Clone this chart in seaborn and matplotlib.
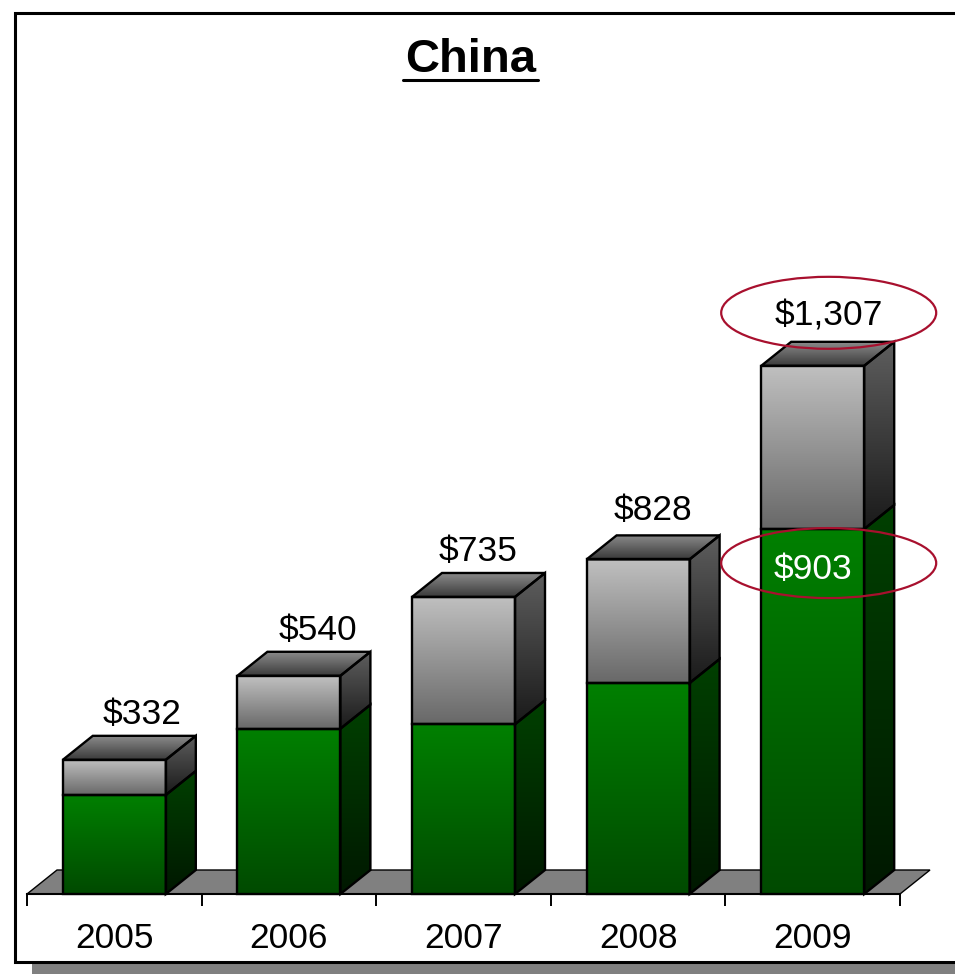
import numpy as np
import pandas as pd
import matplotlib
matplotlib.use("Agg")
import matplotlib.pyplot as plt
import seaborn as sns
from matplotlib.patches import Polygon, Rectangle, Ellipse
from matplotlib.lines import Line2D
from matplotlib.colors import LinearSegmentedColormap
from matplotlib.transforms import IdentityTransform

# ---------------- data ----------------
years = ["2005", "2006", "2007", "2008", "2009"]
green_vals = [245, 409, 420, 522, 903]
totals = [332, 540, 735, 828, 1307]
total_labels = ["$332", "$540", "$735", "$828", "$1,307"]
green_label = "$903"
title = "China"

# per-label horizontal nudges (pixels) and vertical gaps
label_dx = [28, 29, 15, 15, 16]
label_dy = [21, 21, 21, 25, 26]

sns.set_theme(style="white")
plt.rcParams['font.family'] = ['Liberation Sans', 'DejaVu Sans']

W, H = 955, 974
fig = plt.figure(figsize=(W / 100, H / 100), dpi=100)
fig.patch.set_facecolor("white")

# outer frame with drop shadow
fig.patches.append(Rectangle((32, 0), 1200, 11, transform=IdentityTransform(),
                             facecolor="#808080", edgecolor="none", zorder=-3))
fig.patches.append(Rectangle((14.5, 12), 1200, 949.5, transform=IdentityTransform(),
                             facecolor="white", edgecolor="black", linewidth=2.2, zorder=-2))

# axes
ax = fig.add_axes([27 / W, (H - 894) / H, 873 / W, 687 / H])
ax.set_zorder(1)
ax.patch.set_alpha(0)
ymax = 1700

df = pd.DataFrame({"year": years, "total": totals, "green": green_vals})
sns.barplot(data=df, x="year", y="total", color="#909090", width=0.59,
            saturation=1, ax=ax)
n = len(years)
tot_patches = list(ax.patches[:n])
sns.barplot(data=df, x="year", y="green", color="#008000", width=0.59,
            saturation=1, ax=ax)
grn_patches = list(ax.patches[n:2 * n])

ax.set_autoscale_on(False)
ax.set_xlim(-0.5, n - 0.5)
ax.set_ylim(0, ymax)

# pixel depth -> data depth
p0 = ax.transData.transform((0, 0))
p1 = ax.transData.transform((1, 1))
px_per_x = p1[0] - p0[0]
px_per_y = p1[1] - p0[1]
DX_PX, DY_PX = 30, 24
dxd = DX_PX / px_per_x
dyd = DY_PX / px_per_y


def cmap2(top, bottom):
    return LinearSegmentedColormap.from_list("g", [bottom, top])


def grad_poly(verts, top, bottom, z):
    poly = Polygon(verts, closed=True, facecolor="none", edgecolor="none",
                   transform=ax.transData)
    ax.add_patch(poly)
    xs = [v[0] for v in verts]
    ys = [v[1] for v in verts]
    g = np.linspace(0, 1, 256).reshape(-1, 1)
    im = ax.imshow(g, extent=[min(xs), max(xs), min(ys), max(ys)], origin="lower",
                   aspect="auto", cmap=cmap2(top, bottom), zorder=z,
                   interpolation="bilinear")
    im.set_clip_path(poly)
    ax.add_patch(Polygon(verts, closed=True, facecolor="none", edgecolor="black",
                         linewidth=1.7, zorder=z + 0.5, joinstyle="miter",
                         clip_on=False))
    return im


# floor
floor = Polygon([(-0.5, 0), (-0.5 + dxd, dyd), (n - 0.5 + dxd, dyd), (n - 0.5, 0)],
                closed=True, facecolor="#808080", edgecolor="black", linewidth=1.0,
                zorder=1, clip_on=False)
ax.add_patch(floor)

for i in range(n):
    tp = tot_patches[i]
    tp.set_visible(False)
    grn_patches[i].set_visible(False)
    x0 = tp.get_x()
    x1 = x0 + tp.get_width()
    g = grn_patches[i].get_height()
    t = tp.get_height()
    # green front and side
    grad_poly([(x0, 0), (x1, 0), (x1, g), (x0, g)], "#008000", "#004a00", 3)
    grad_poly([(x1, 0), (x1 + dxd, dyd), (x1 + dxd, g + dyd), (x1, g)],
              "#004000", "#001800", 3)
    # gray front and side
    grad_poly([(x0, g), (x1, g), (x1, t), (x0, t)], "#c0c0c0", "#686868", 3)
    grad_poly([(x1, g), (x1 + dxd, g + dyd), (x1 + dxd, t + dyd), (x1, t)],
              "#5e5e5e", "#1a1a1a", 3)
    # top face
    grad_poly([(x0, t), (x1, t), (x1 + dxd, t + dyd), (x0 + dxd, t + dyd)],
              "#8a8a8a", "#3a3a3a", 3)
    # total label
    ax.annotate(total_labels[i], xy=((x0 + x1) / 2, t + dyd),
                xytext=(label_dx[i], label_dy[i]), textcoords="offset pixels",
                ha="center", va="center", fontsize=25.5, color="black", zorder=6)

# highlighted 2009 values
last = n - 1
xl0 = tot_patches[last].get_x()
xl1 = xl0 + tot_patches[last].get_width()
xc = (xl0 + xl1) / 2
gl = grn_patches[last].get_height()
tl = tot_patches[last].get_height()
ax.annotate(green_label, xy=(xc, gl), xytext=(0, -40), textcoords="offset pixels",
            ha="center", va="center", fontsize=25.5, color="white", zorder=6)

c1 = ax.transData.transform((xc, tl + dyd)) + np.array([label_dx[last], 29])
c2 = ax.transData.transform((xc, gl)) + np.array([16, -34])
for c, h in [(c1, 72), (c2, 70)]:
    fig.patches.append(Ellipse((c[0], c[1]), 215, h, transform=IdentityTransform(),
                               facecolor="none", edgecolor="#a8102e", linewidth=1.6,
                               zorder=10))

# axis styling
for s in ["left", "right", "top"]:
    ax.spines[s].set_visible(False)
ax.spines["bottom"].set_color("black")
ax.spines["bottom"].set_linewidth(1.5)
ax.spines["bottom"].set_zorder(2)
ax.set_yticks([])
ax.set_xlabel("")
ax.set_ylabel("")
ax.set_xticks(range(n))
ax.set_xticklabels(years)
ax.set_xticks(np.arange(-0.5, n, 1), minor=True)
ax.tick_params(axis="x", which="major", length=0, labelsize=25.5, pad=20,
               labelcolor="black")
ax.tick_params(axis="x", which="minor", length=8.5, width=1.4, color="black",
               direction="out", bottom=True)

# title with underline
fig.text(470.5 / W, 1 - 72 / H, title, fontsize=34, fontweight="bold",
         ha="center", va="baseline", color="black")
fig.lines.append(Line2D([403 / W, 538 / W], [1 - 80 / H, 1 - 80 / H],
                        transform=fig.transFigure, color="black", linewidth=2.2))

fig.savefig("out.png", dpi=100)
